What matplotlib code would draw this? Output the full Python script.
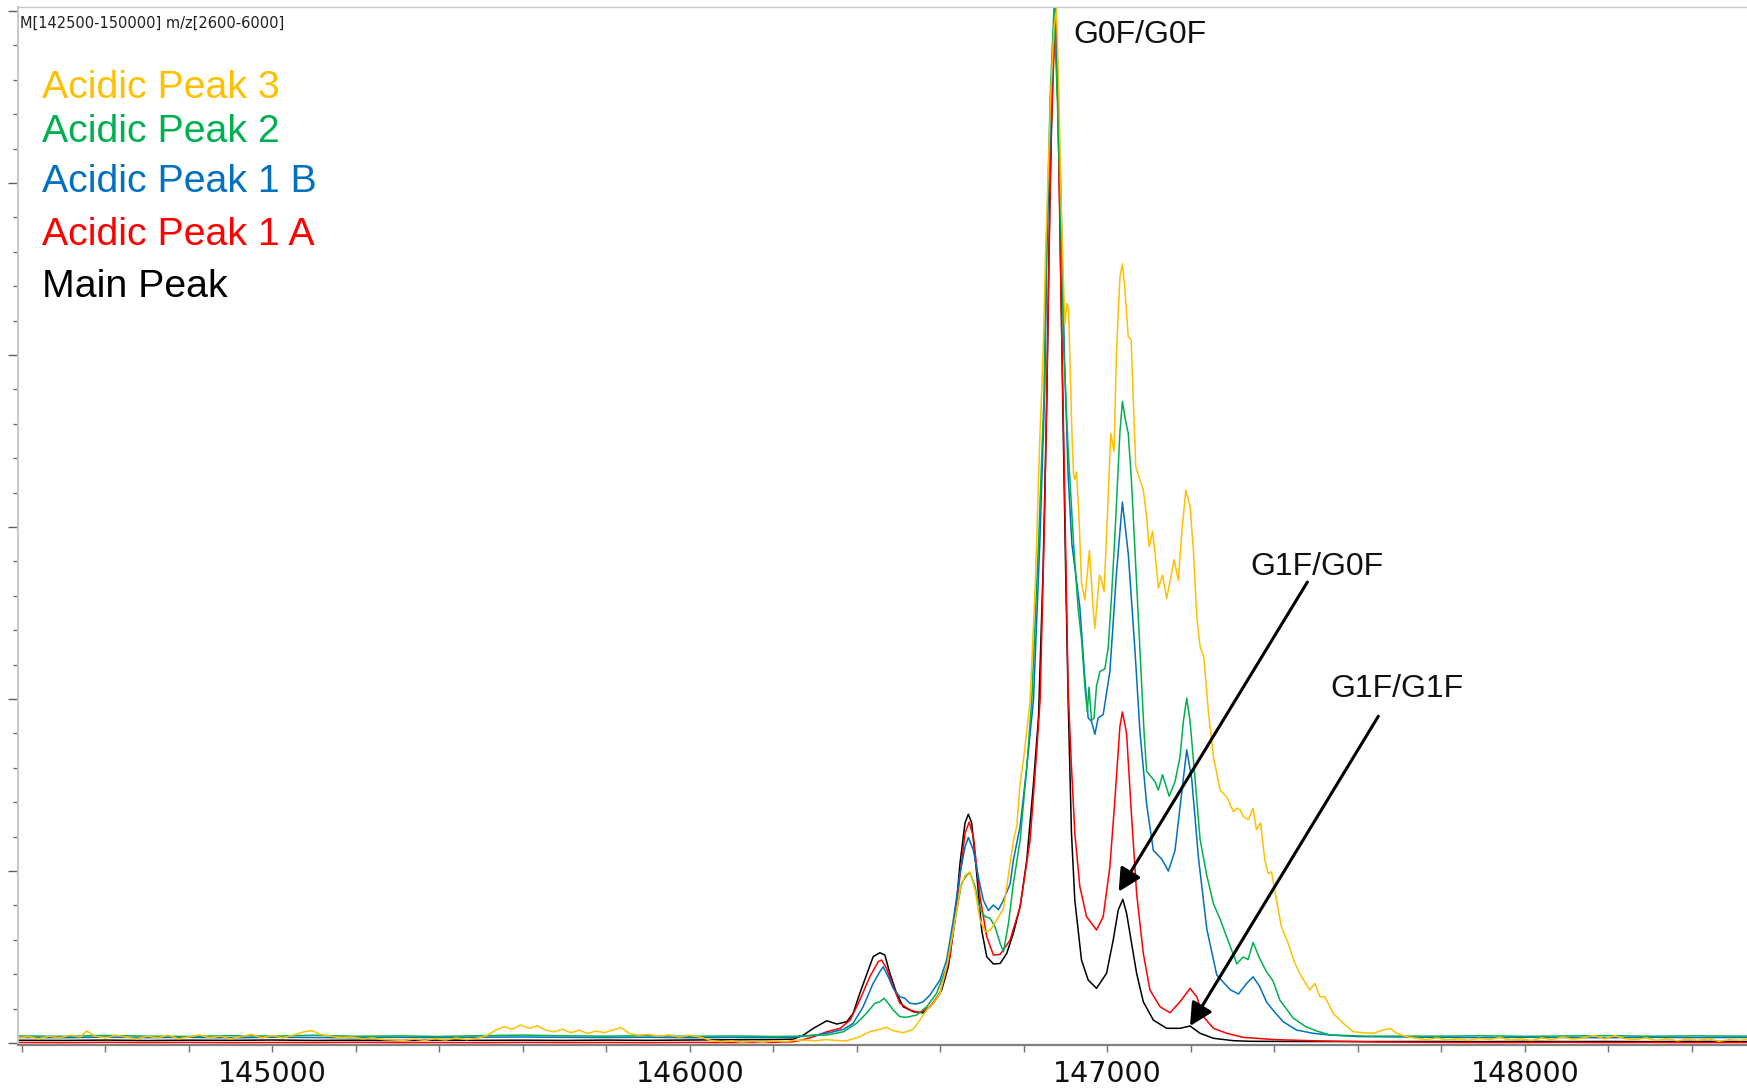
import matplotlib
matplotlib.use("Agg")
import matplotlib.pyplot as plt
from matplotlib.ticker import MultipleLocator, FormatStrFormatter

W, H, DPI = 1747, 1089, 100

# ---------------------------------------------------------------------------
# Deconvoluted intact-mass spectra: mass (Da) vs. relative intensity
# ---------------------------------------------------------------------------
base_left_mz = [144390, 144500, 144600, 144700, 144800, 144900, 145000, 145100, 145200,
                145300, 145400, 145500, 145600, 145700, 145800, 145900, 146000, 146100, 146200]
base_right_mz = [147800, 147900, 148000, 148100, 148200, 148300, 148400, 148532]

# Main Peak
main_left = [0.32, 0.30, 0.34, 0.29, 0.33, 0.31, 0.35, 0.30, 0.33, 0.29,
             0.34, 0.31, 0.33, 0.30, 0.34, 0.31, 0.35, 0.38, 0.40]
main_mz = [146248, 146272, 146296, 146328, 146352, 146376, 146391, 146407, 146423, 146439,
           146455, 146467, 146479, 146495, 146511, 146535, 146559, 146583, 146603, 146619,
           146635, 146647, 146659, 146667, 146675, 146687, 146699, 146711, 146727, 146743,
           146759, 146775, 146791, 146807, 146823, 146835, 146846, 146855, 146862, 146869,
           146875, 146881, 146886, 146893, 146900, 146906, 146914, 146922, 146938, 146954,
           146974, 146998, 147014, 147026, 147037, 147046, 147058, 147070, 147086, 147110,
           147142, 147174, 147198, 147222, 147254, 147302, 147342, 147450, 147600]
main_int = [0.45, 0.93, 1.71, 2.59, 2.21, 2.48, 3.45, 5.78, 7.91, 10.04,
            10.50, 10.23, 8.11, 5.78, 4.22, 3.64, 3.52, 4.62, 6.16, 8.87,
            14.3, 20.9, 25.6, 26.6, 25.6, 19.7, 13.1, 10.04, 9.19, 9.25,
            10.43, 12.8, 15.85, 21.3, 30.2, 37.9, 55.0, 75.0, 98.0, 112.0,
            120.3, 110.0, 97.0, 74.8, 55.0, 39.9, 24.4, 16.6, 9.65, 7.33,
            6.36, 8.11, 11.98, 15.47, 16.71, 15.08, 11.6, 8.11, 4.8, 2.67,
            1.71, 1.71, 1.98, 1.13, 0.55, 0.27, 0.20, 0.18, 0.17]
main_right = [0.18, 0.16, 0.19, 0.17, 0.18, 0.16, 0.19, 0.17]

# Acidic Peak 1 A
ap1a_left = [0.06, 0.04, 0.08, 0.05, 0.07, 0.04, 0.06, 0.05, 0.08, 0.05,
             0.06, 0.04, 0.07, 0.05, 0.06, 0.04, 0.07, 0.05, 0.08]
ap1a_mz = [146248, 146272, 146296, 146328, 146360, 146384, 146407, 146431, 146451, 146459,
           146471, 146487, 146503, 146527, 146551, 146575, 146599, 146623, 146643, 146659,
           146669, 146679, 146695, 146711, 146727, 146743, 146767, 146791, 146815, 146831,
           146839, 146850, 146858, 146866, 146876, 146882, 146887, 146897, 146902, 146906,
           146914, 146922, 146934, 146950, 146974, 146990, 147006, 147018, 147030, 147036,
           147046, 147058, 147070, 147086, 147102, 147126, 147150, 147174, 147198, 147214,
           147230, 147254, 147286, 147325, 147400, 147500, 147650]
ap1a_int = [0.15, 0.4, 0.73, 1.31, 1.71, 2.67, 5.0, 7.71, 9.46, 9.65,
            8.69, 6.55, 4.62, 3.84, 3.52, 4.22, 5.78, 10.04, 17.8, 24.4,
            25.7, 24.0, 17.0, 12.36, 10.23, 10.3, 11.98, 15.85, 23.6, 34.1,
            40.0, 62.0, 85.0, 107.0, 120.3, 108.0, 92.0, 66.0, 52.0, 41.0,
            32.1, 24.4, 18.2, 14.7, 13.14, 14.7, 20.5, 28.3, 36.8, 38.5,
            36.0, 26.3, 17.4, 10.43, 6.16, 4.22, 3.52, 4.8, 6.36, 5.38,
            3.06, 1.71, 1.13, 0.66, 0.4, 0.25, 0.12]
ap1a_right = [0.07, 0.05, 0.06, 0.08, 0.05, 0.07, 0.05, 0.06]

# Acidic Peak 1 B
ap1b_left = [0.65, 0.62, 0.68, 0.63, 0.66, 0.61, 0.67, 0.64, 0.62, 0.66,
             0.63, 0.68, 0.70, 0.66, 0.64, 0.67, 0.62, 0.65, 0.63]
ap1b_mz = [146248, 146296, 146328, 146368, 146391, 146415, 146439, 146455, 146463, 146475,
           146487, 146503, 146515, 146527, 146543, 146559, 146575, 146599, 146615, 146631,
           146647, 146659, 146667, 146679, 146691, 146703, 146715, 146727, 146739, 146751,
           146767, 146775, 146791, 146807, 146823, 146838, 146850, 146855, 146865, 146874,
           146881, 146888, 146897, 146906, 146915, 146934, 146946, 146954, 146962, 146970,
           146978, 146990, 147006, 147022, 147036, 147050, 147066, 147078, 147094, 147110,
           147118, 147130, 147146, 147162, 147178, 147190, 147202, 147218, 147238, 147262,
           147294, 147314, 147333, 147349, 147365, 147381, 147397, 147421, 147453, 147493,
           147533, 147600]
ap1b_int = [0.66, 0.9, 1.13, 1.59, 2.29, 4.22, 6.94, 8.29, 8.87, 7.71,
            6.36, 5.38, 5.2, 4.62, 4.54, 4.8, 5.58, 7.33, 9.65, 14.3,
            19.7, 22.8, 23.9, 22.4, 19.3, 16.6, 15.4, 16.05, 15.5, 16.6,
            18.5, 21.3, 25.2, 32.1, 39.9, 58.0, 76.0, 92.0, 110.0, 120.3,
            110.0, 100.0, 80.0, 66.0, 58.0, 50.7, 42.4, 37.8, 37.4, 35.9,
            37.8, 38.2, 43.2, 54.8, 62.9, 56.9, 45.7, 36.2, 27.8, 22.4,
            22.0, 21.4, 20.0, 22.4, 29.1, 34.1, 30.7, 21.6, 13.3, 7.9,
            6.2, 5.7, 6.9, 7.7, 6.55, 4.8, 3.8, 2.48, 1.51, 1.13,
            0.93, 0.75]
ap1b_right = [0.66, 0.63, 0.67, 0.64, 0.62, 0.66, 0.63, 0.65]

# Acidic Peak 2
ap2_left = [0.82, 0.78, 0.88, 0.80, 0.76, 0.85, 0.80, 0.90, 0.78, 0.83,
            0.76, 0.86, 0.92, 0.84, 0.80, 0.86, 0.78, 0.82, 0.76]
ap2_mz = [146248, 146296, 146328, 146368, 146399, 146423, 146443, 146455, 146465, 146475,
          146487, 146503, 146519, 146543, 146567, 146591, 146615, 146635, 146651, 146663,
          146671, 146683, 146695, 146707, 146719, 146731, 146743, 146751, 146763, 146775,
          146791, 146807, 146819, 146835, 146848, 146854, 146863, 146872, 146880, 146886,
          146896, 146906, 146920, 146930, 146938, 146946, 146952, 146956, 146962, 146968,
          146974, 146982, 146994, 147002, 147010, 147018, 147024, 147030, 147036, 147043,
          147050, 147058, 147066, 147074, 147082, 147088, 147094, 147104, 147114, 147122,
          147132, 147148, 147162, 147174, 147182, 147190, 147198, 147210, 147222, 147238,
          147254, 147270, 147286, 147310, 147325, 147337, 147349, 147365, 147381, 147397,
          147413, 147445, 147475, 147501, 147533, 147613]
ap2_int = [0.78, 0.9, 0.93, 1.31, 2.29, 3.45, 4.62, 4.8, 5.2, 4.62,
           3.84, 3.06, 2.99, 3.26, 4.22, 5.78, 8.87, 14.3, 18.6, 19.5,
           19.8, 18.2, 15.5, 14.7, 14.5, 13.5, 11.6, 10.6, 13.9, 18.6,
           23.6, 32.1, 39.9, 58.0, 75.0, 92.0, 110.0, 120.3, 110.0, 100.0,
           80.0, 69.0, 57.3, 50.5, 47.0, 41.5, 38.5, 41.4, 37.5, 37.8,
           41.5, 43.2, 43.5, 46.0, 52.0, 59.0, 65.0, 71.0, 74.6, 72.5,
           70.9, 65.1, 57.3, 49.6, 41.8, 36.0, 31.6, 31.0, 30.4, 29.4,
           31.2, 28.7, 30.4, 33.3, 37.4, 40.1, 37.4, 30.7, 23.7, 19.5,
           16.2, 14.4, 12.3, 9.2, 10.0, 9.7, 11.7, 9.8, 8.3, 7.2,
           5.0, 2.9, 1.9, 1.4, 0.95, 0.8]
ap2_right = [0.80, 0.84, 0.78, 0.82, 0.86, 0.79, 0.83, 0.80]

# Acidic Peak 3
ap3_left_mz = [144390, 144415, 144440, 144465, 144490, 144515, 144540, 144555, 144575, 144600,
               144625, 144650, 144675, 144700, 144725, 144750, 144775, 144800, 144825, 144850,
               144875, 144900, 144925, 144950, 144975, 145000, 145025, 145050, 145075, 145095,
               145115, 145140, 145165, 145190, 145215, 145240, 145265, 145290, 145315, 145340,
               145365, 145390, 145415, 145440, 145465, 145490, 145515, 145535, 145555, 145575,
               145595, 145615, 145635, 145655, 145675, 145695, 145715, 145735, 145755, 145775,
               145795, 145815, 145835, 145855, 145875, 145900, 145925, 145950, 145975, 146000,
               146025, 146050, 146075, 146100, 146125, 146150, 146175, 146200, 146225, 146250,
               146275, 146300, 146325, 146350, 146375]
ap3_left = [0.6, 0.75, 0.5, 0.8, 0.6, 0.9, 0.7, 1.4, 0.8, 0.6,
            0.9, 0.7, 0.5, 0.8, 0.6, 0.9, 0.5, 0.7, 0.95, 0.6,
            0.8, 0.5, 0.75, 1.0, 0.6, 0.85, 0.6, 0.9, 1.3, 1.45,
            1.0, 0.8, 0.6, 0.7, 0.5, 0.6, 0.4, 0.35, 0.3, 0.45,
            0.3, 0.5, 0.35, 0.6, 0.4, 0.55, 0.9, 1.5, 1.9, 1.6,
            2.1, 1.7, 2.0, 1.5, 1.3, 1.6, 1.2, 1.5, 1.1, 1.4,
            1.2, 1.5, 1.8, 1.1, 0.9, 1.0, 0.8, 0.95, 0.7, 0.9,
            0.7, 0.3, 0.15, 0.25, 0.1, 0.2, 0.1, 0.25, 0.15, 0.3,
            0.35, 0.25, 0.4, 0.3, 0.25]
ap3_mz = [146407, 146431, 146455, 146471, 146487, 146511, 146535, 146551, 146567, 146583,
          146599, 146615, 146631, 146647, 146659, 146671, 146683, 146695, 146707, 146719,
          146735, 146751, 146759, 146775, 146783, 146791, 146799, 146811, 146815, 146827,
          146838, 146846, 146852, 146864, 146872, 146878, 146884, 146889, 146894, 146898,
          146903, 146907, 146911, 146915, 146919, 146922, 146926, 146932, 146938, 146946,
          146957, 146965, 146970, 146981, 146986, 146992, 147000, 147008, 147016, 147022,
          147030, 147036, 147042, 147050, 147057, 147062, 147068, 147078, 147086, 147094,
          147100, 147108, 147115, 147122, 147132, 147142, 147152, 147160, 147170, 147178,
          147188, 147198, 147206, 147214, 147222, 147231, 147242, 147254, 147270, 147286,
          147302, 147310, 147318, 147326, 147338, 147349, 147357, 147367, 147377, 147385,
          147393, 147405, 147417, 147433, 147449, 147465, 147485, 147497, 147509, 147521,
          147541, 147565, 147589, 147613, 147637, 147661, 147677, 147693, 147717, 147741]
ap3_int = [0.73, 1.31, 1.59, 1.83, 1.43, 1.2, 1.59, 2.67, 3.84, 4.62,
           5.78, 8.87, 13.1, 17.8, 19.5, 19.9, 17.8, 14.3, 12.95, 13.1,
           14.3, 15.6, 18.2, 23.6, 25.2, 30.2, 32.9, 38.0, 39.9, 53.0,
           70.0, 80.0, 92.0, 110.0, 118.0, 120.3, 110.0, 98.0, 90.0, 83.5,
           86.0, 85.3, 78.0, 71.0, 66.0, 65.5, 66.4, 61.2, 53.5, 51.5,
           57.3, 51.1, 48.2, 54.4, 53.8, 52.5, 61.2, 70.9, 68.8, 80.6,
           89.1, 90.6, 87.6, 82.1, 81.8, 74.8, 67.0, 65.5, 64.3, 61.2,
           57.7, 59.5, 56.6, 52.9, 54.4, 51.7, 54.2, 56.2, 53.8, 59.3,
           64.3, 62.4, 57.3, 49.6, 46.1, 44.9, 38.5, 33.3, 29.4, 28.6,
           26.9, 27.3, 27.1, 26.3, 26.0, 27.3, 24.8, 25.6, 21.3, 19.7,
           19.9, 16.6, 13.5, 11.6, 9.27, 7.71, 6.16, 6.94, 5.38, 5.38,
           3.45, 2.29, 1.31, 1.2, 1.13, 1.51, 1.71, 1.13, 0.73, 0.55]
ap3_right_mz = [147765, 147790, 147815, 147840, 147865, 147890, 147915, 147940, 147965, 147990,
                148015, 148040, 148065, 148090, 148115, 148140, 148165, 148190, 148215, 148240,
                148265, 148290, 148315, 148340, 148365, 148390, 148415, 148440, 148465, 148490,
                148515, 148532]
ap3_right = [0.4, 0.6, 0.35, 0.5, 0.3, 0.55, 0.4, 0.65, 0.35, 0.5,
             0.3, 0.6, 0.4, 0.7, 0.45, 0.6, 0.9, 0.5, 0.85, 0.5,
             0.4, 0.6, 0.3, 0.5, 0.25, 0.45, 0.3, 0.5, 0.2, 0.4,
             0.3, 0.45]

series_labels = ["Acidic Peak 3", "Acidic Peak 2", "Acidic Peak 1 B", "Acidic Peak 1 A", "Main Peak"]
series_colors = ["#FFC000", "#00B050", "#0070C0", "#FF0000", "#000000"]

glyco_labels = ["G0F/G0F", "G1F/G0F", "G1F/G1F"]

header = "M[142500-150000] m/z[2600-6000]"

# ---------------------------------------------------------------------------
traces = {
    "Main Peak": (base_left_mz + main_mz + base_right_mz, main_left + main_int + main_right),
    "Acidic Peak 1 A": (base_left_mz + ap1a_mz + base_right_mz, ap1a_left + ap1a_int + ap1a_right),
    "Acidic Peak 1 B": (base_left_mz + ap1b_mz + base_right_mz, ap1b_left + ap1b_int + ap1b_right),
    "Acidic Peak 2": (base_left_mz + ap2_mz + base_right_mz, ap2_left + ap2_int + ap2_right),
    "Acidic Peak 3": (ap3_left_mz + ap3_mz + ap3_right_mz, ap3_left + ap3_int + ap3_right),
}
color_of = dict(zip(series_labels, series_colors))

fig = plt.figure(figsize=(W / DPI, H / DPI), dpi=DPI)
fig.patch.set_facecolor("white")
ax = fig.add_axes([17.7 / W, 44 / H, (W - 17.7) / W, (1045 - 6.7) / H])

for name in ["Main Peak", "Acidic Peak 1 A", "Acidic Peak 1 B", "Acidic Peak 2", "Acidic Peak 3"]:
    mz, inten = traces[name]
    ax.plot(mz, inten, color=color_of[name], lw=1.1, solid_joinstyle="round")

ax.set_xlim(144390, 148532)
ax.set_ylim(-0.23, 120.5)

# axes frame
ax.spines["right"].set_visible(False)
ax.spines["top"].set_color("#c8c8c8")
ax.spines["top"].set_linewidth(1.0)
ax.spines["left"].set_color("#c8c8c8")
ax.spines["left"].set_linewidth(1.4)
ax.spines["bottom"].set_color("#808080")
ax.spines["bottom"].set_linewidth(1.6)

ax.xaxis.set_major_locator(MultipleLocator(1000))
ax.xaxis.set_minor_locator(MultipleLocator(200))
ax.xaxis.set_major_formatter(FormatStrFormatter("%d"))
ax.tick_params(axis="x", which="both", direction="out", length=5, width=1.0,
               color="#707070", top=False)
ax.tick_params(axis="x", which="major", labelsize=20.5, pad=6, labelcolor="#111111")

ax.yaxis.set_major_locator(MultipleLocator(20))
ax.yaxis.set_minor_locator(MultipleLocator(4))
ax.tick_params(axis="y", which="major", direction="out", length=7.2, width=1.0,
               color="#606060", labelleft=False, right=False)
ax.tick_params(axis="y", which="minor", direction="out", length=3.6, width=0.9,
               color="#606060", right=False)

# header line
fig.text(20.5 / W, 1 - 23 / H, header, fontsize=10.5, family="DejaVu Sans",
         color="#202020", ha="left", va="center")

# series names in their trace colours
name_baselines = [97.7, 141.7, 191.7, 245.0, 296.7]
for name, col, yb in zip(series_labels, series_colors, name_baselines):
    fig.text(41.5 / W, 1 - yb / H, name, fontsize=28.3, family="Liberation Sans",
             color=col, ha="left", va="baseline")

# glycoform labels and arrows (data coordinates)
label_pos = [(146918, 116.3), (147343, 54.4), (147533, 40.2)]
for txt, (lx, ly) in zip(glyco_labels, label_pos):
    ax.text(lx, ly, txt, fontsize=23, family="Liberation Sans", color="#111111",
            ha="left", va="baseline")

arrow_tail = [(147479, 53.6), (147649, 38.0)]
arrow_tip = [(147027, 17.6), (147198, 1.98)]
for tail, tip in zip(arrow_tail, arrow_tip):
    ax.annotate("", xy=tip, xytext=tail,
                arrowprops=dict(arrowstyle="-|>,head_length=0.55,head_width=0.28",
                                mutation_scale=25, lw=2.2, color="black",
                                shrinkA=0, shrinkB=0))

fig.savefig("out.png", dpi=DPI, facecolor="white")
